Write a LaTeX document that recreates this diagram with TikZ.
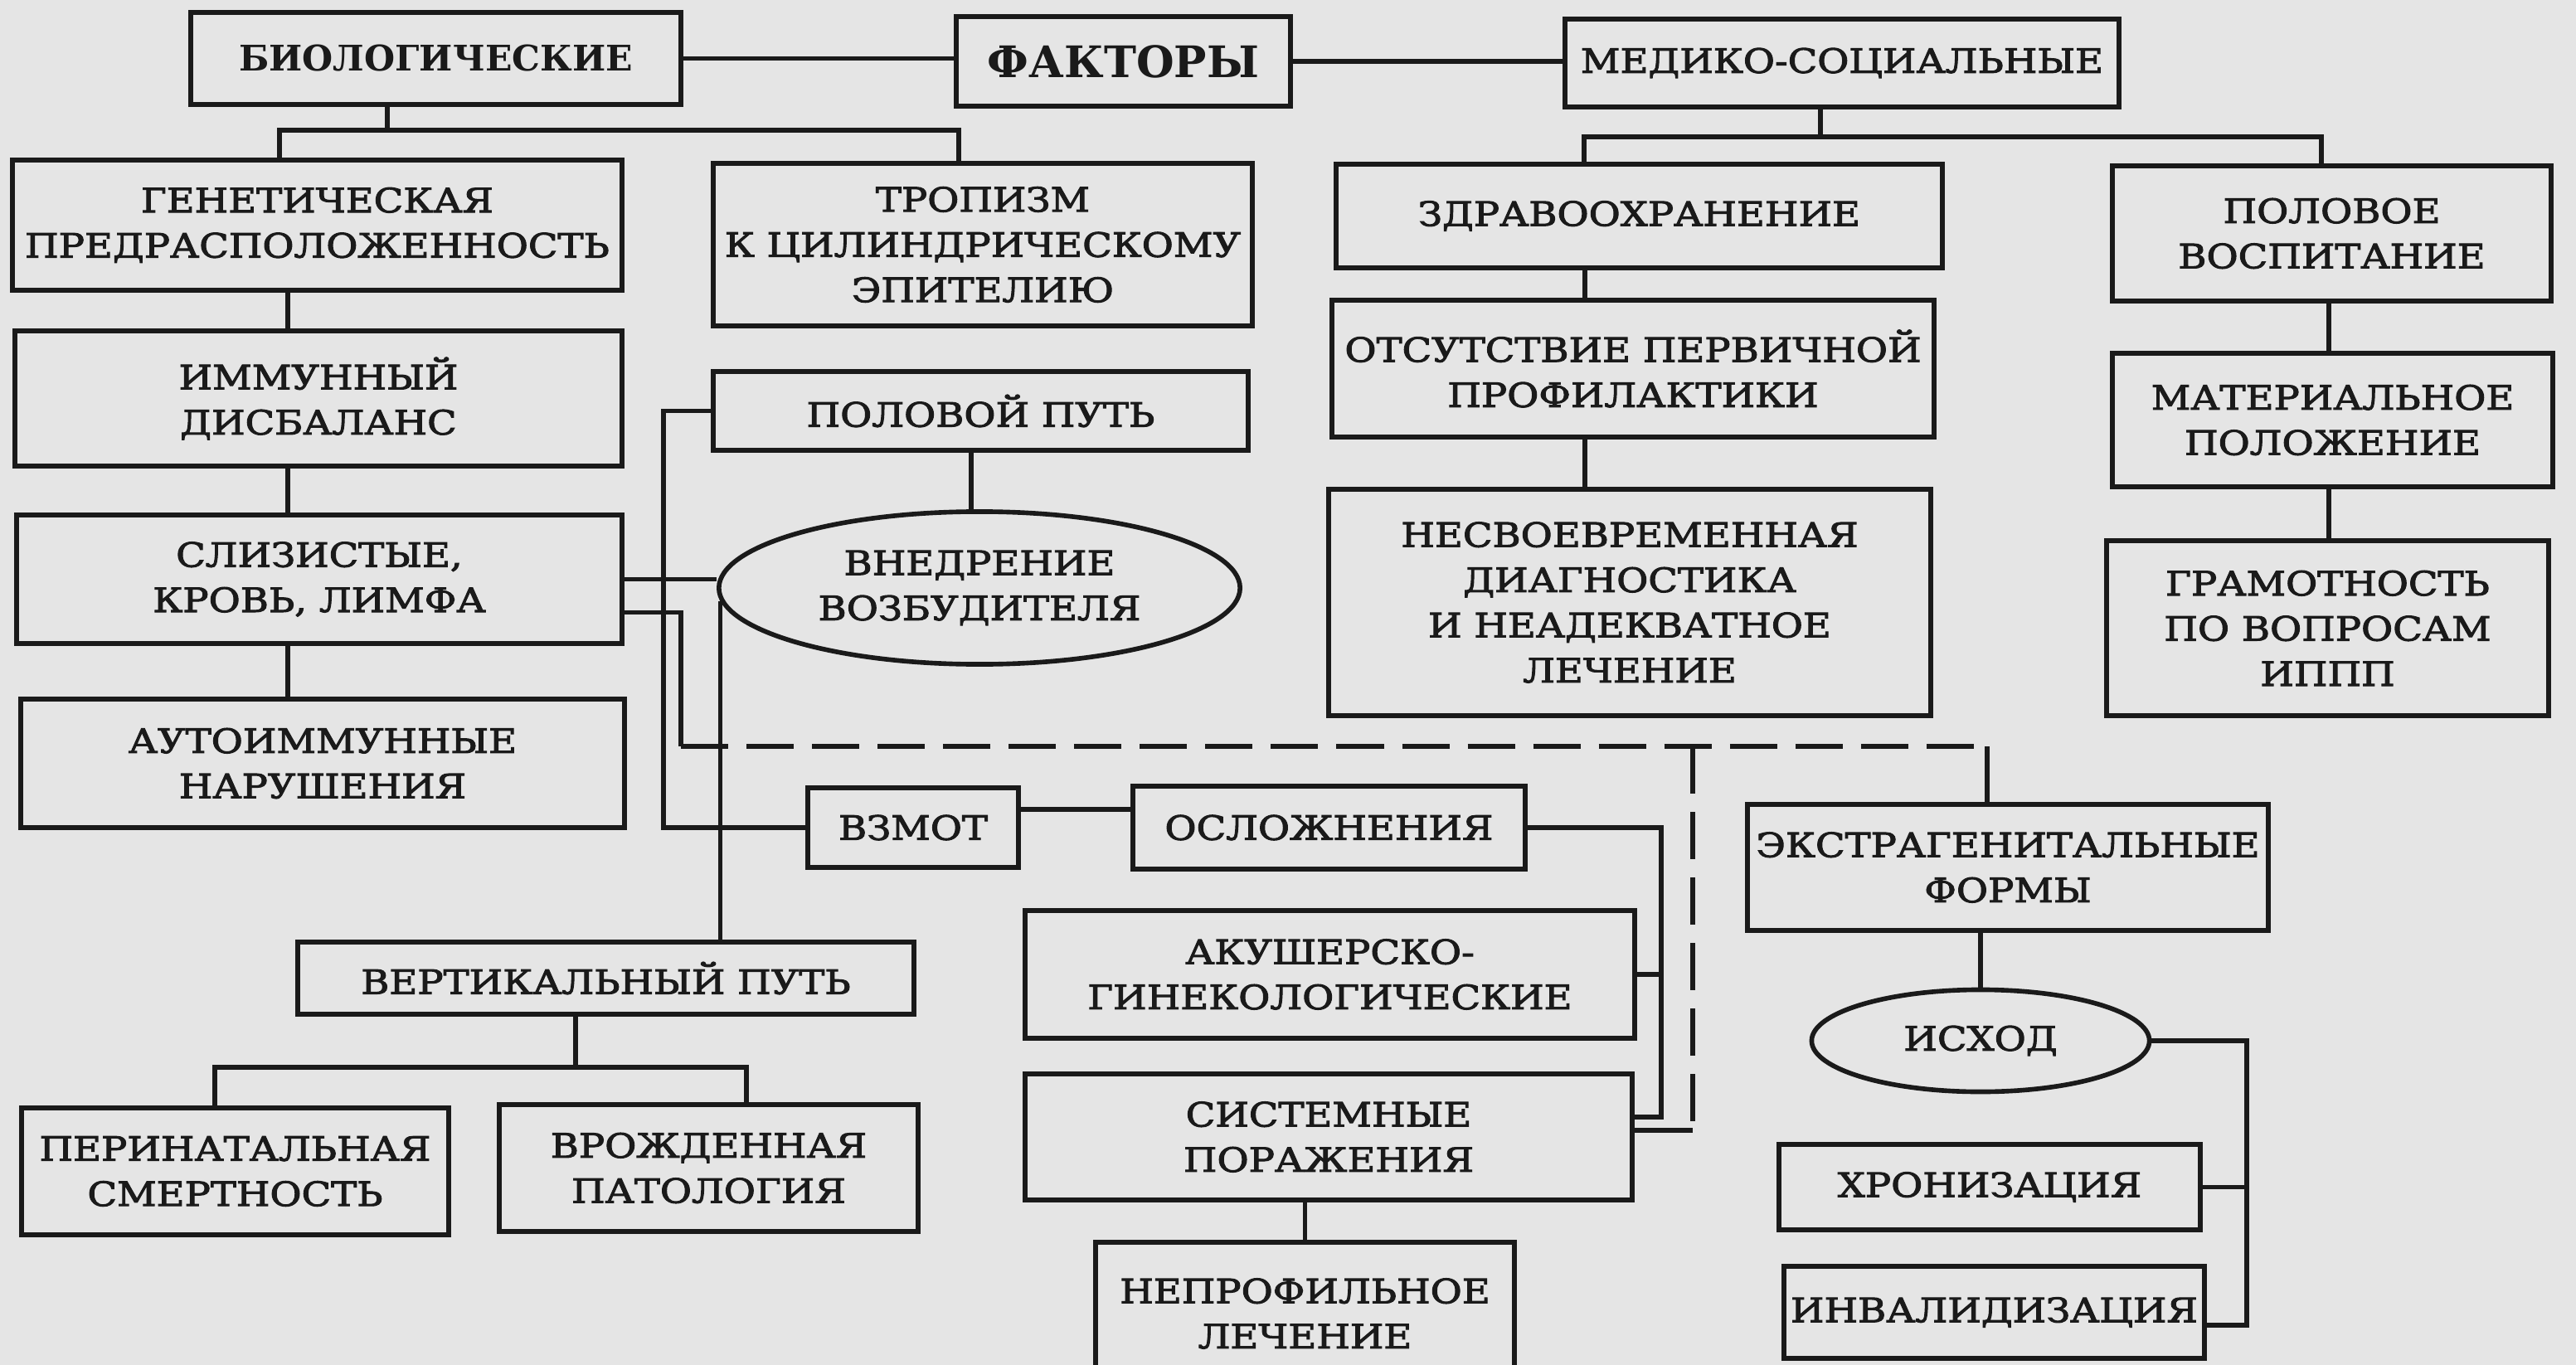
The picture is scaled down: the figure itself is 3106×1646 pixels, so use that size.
\documentclass[tikz,border=0pt]{standalone}
\usepackage{fontspec}
\setmainfont{DejaVu Serif}[FakeStretch=1.15,FakeBold=2.5]
\newfontfamily\headfont{DejaVu Serif}[BoldFont={DejaVu Serif Bold}]
\usetikzlibrary{shapes.geometric}
\definecolor{bg}{RGB}{229,229,229}
\definecolor{ink}{RGB}{26,26,26}
\newcommand\bx[7][]{%
  \pgfmathsetmacro\bxcx{(#3+#5)/2}%
  \pgfmathsetmacro\bxcy{(#4+#6)/2}%
  \pgfmathsetmacro\bxw{(#5-#3)/100}%
  \pgfmathsetmacro\bxh{(#6-#4)/100}%
  \node[box,#1,minimum width=\bxw cm,minimum height=\bxh cm] (#2) at (\bxcx,\bxcy) {#7};}
\newcommand\el[6]{%
  \node[oval,minimum width=#4cm,minimum height=#5cm] (#1) at (#2,#3) {#6};}
\begin{document}
\begin{tikzpicture}[x=0.01cm,y=-0.01cm,
  font=\fontsize{11.5}{15.5}\selectfont,
  box/.style={draw=ink,fill=bg,line width=1.8pt,align=center,inner sep=0pt,text=ink},
  oval/.style={ellipse,draw=ink,fill=bg,line width=1.6pt,align=center,inner sep=0pt,text=ink},
  conn/.style={draw=ink,line width=1.5pt},
  dconn/.style={draw=ink,line width=1.6pt,dash pattern=on 0.57cm off 0.22cm}]
\fill[bg] (0,0) rectangle (3106,1646);
\useasboundingbox (0,0) rectangle (3106,1646);
% nodes
\bx[font=\headfont\fontsize{12.1}{15.5}\selectfont\bfseries]{biol}{230}{15}{821}{126}{БИОЛОГИЧЕСКИЕ}
\bx[font=\headfont\fontsize{14.9}{18}\selectfont\bfseries]{fact}{1153}{20}{1556}{128}{ФАКТОРЫ}
\bx{med}{1887}{23}{2555}{129}{МЕДИКО-СОЦИАЛЬНЫЕ}
\bx{gen}{15}{193}{750}{350}{ГЕНЕТИЧЕСКАЯ\\ПРЕДРАСПОЛОЖЕННОСТЬ}
\bx{trop}{860}{197}{1510}{393}{ТРОПИЗМ\\К ЦИЛИНДРИЧЕСКОМУ\\ЭПИТЕЛИЮ}
\bx{zdr}{1611}{198}{2342}{323}{ЗДРАВООХРАНЕНИЕ}
\bx{polv}{2547}{200}{3076}{363}{ПОЛОВОЕ\\ВОСПИТАНИЕ}
\bx{imm}{18}{399}{750}{562}{ИММУННЫЙ\\ДИСБАЛАНС}
\bx{pol}{860}{448}{1505}{543}{ПОЛОВОЙ ПУТЬ}
\bx{ots}{1606}{362}{2332}{527}{ОТСУТСТВИЕ ПЕРВИЧНОЙ\\ПРОФИЛАКТИКИ}
\bx{mat}{2547}{426}{3078}{587}{МАТЕРИАЛЬНОЕ\\ПОЛОЖЕНИЕ}
\bx{sliz}{20}{621}{750}{776}{СЛИЗИСТЫЕ,\\КРОВЬ, ЛИМФА}
\el{vn}{1181}{709}{6.28}{1.84}{ВНЕДРЕНИЕ\\ВОЗБУДИТЕЛЯ}
\bx{nesv}{1602}{590}{2328}{863}{НЕСВОЕВРЕМЕННАЯ\\ДИАГНОСТИКА\\И НЕАДЕКВАТНОЕ\\ЛЕЧЕНИЕ}
\bx{gram}{2540}{652}{3073}{863}{ГРАМОТНОСТЬ\\ПО ВОПРОСАМ\\ИППП}
\bx{auto}{25}{843}{753}{998}{АУТОИММУННЫЕ\\НАРУШЕНИЯ}
\bx{vz}{974}{950}{1228}{1046}{ВЗМОТ}
\bx{osl}{1366}{948}{1839}{1048}{ОСЛОЖНЕНИЯ}
\bx{ekstr}{2107}{970}{2735}{1122}{ЭКСТРАГЕНИТАЛЬНЫЕ\\ФОРМЫ}
\bx{vert}{359}{1136}{1102}{1223}{ВЕРТИКАЛЬНЫЙ ПУТЬ}
\bx{akus}{1236}{1098}{1971}{1252}{АКУШЕРСКО-\\ГИНЕКОЛОГИЧЕСКИЕ}
\el{isx}{2388}{1255}{4.07}{1.23}{ИСХОД}
\bx{sist}{1236}{1295}{1968}{1447}{СИСТЕМНЫЕ\\ПОРАЖЕНИЯ}
\bx{peri}{26}{1336}{541}{1489}{ПЕРИНАТАЛЬНАЯ\\СМЕРТНОСТЬ}
\bx{vrozh}{602}{1332}{1107}{1485}{ВРОЖДЕННАЯ\\ПАТОЛОГИЯ}
\bx{hron}{2145}{1380}{2653}{1483}{ХРОНИЗАЦИЯ}
\bx{nepr}{1321}{1498}{1826}{1670}{НЕПРОФИЛЬНОЕ\\ЛЕЧЕНИЕ}
\bx{inv}{2151}{1527}{2658}{1638}{ИНВАЛИДИЗАЦИЯ}
% helper coordinates
\coordinate (bb) at (467,157);
\coordinate (bg1) at (337,157);
\coordinate (bt1) at (1156,157);
\coordinate (lc) at (347,0);
\coordinate (mb) at (2195,165);
\coordinate (mz) at (1910,165);
\coordinate (mp) at (2799,165);
\coordinate (zc) at (1911,0);
\coordinate (pc) at (2808,0);
\coordinate (px) at (800,0);
\coordinate (pv) at (1171,0);
\coordinate (sd) at (821,900);
\coordinate (sm) at (2041,900);
\coordinate (se) at (2396,900);
\coordinate (sx) at (2041,1363);
\coordinate (vb) at (694,1287);
\coordinate (vp) at (259,1287);
\coordinate (vv) at (900,1287);
\coordinate (ox) at (2003,0);
\coordinate (rx) at (2709,0);
% connectors
\draw[conn] (biol.east) -- (biol.east -| fact.west);
\draw[conn] (fact.east) -- (fact.east -| med.west);
\draw[conn] (biol.south -| bb) -- (bb);
\draw[conn] (gen.north -| bg1) -- (bg1) -- (bt1) -- (trop.north -| bt1);
\draw[conn] (gen.south -| lc) -- (imm.north -| lc);
\draw[conn] (imm.south -| lc) -- (sliz.north -| lc);
\draw[conn] (sliz.south -| lc) -- (auto.north -| lc);
\draw[conn] (med.south -| mb) -- (mb);
\draw[conn] (zdr.north -| mz) -- (mz) -- (mp) -- (polv.north -| mp);
\draw[conn] (zdr.south -| zc) -- (ots.north -| zc);
\draw[conn] (ots.south -| zc) -- (nesv.north -| zc);
\draw[conn] (polv.south -| pc) -- (mat.north -| pc);
\draw[conn] (mat.south -| pc) -- (gram.north -| pc);
\draw[conn] (pol.south -| pv) -- ([yshift=-0.01cm]vn.north -| pv);
\draw[conn] (pol.west) -- (pol.west -| px) -- (px |- vz.west) -- (vz.west);
\draw[conn] (sliz.east) -- (sliz.east -| vn.west);
\draw[conn] ([yshift=-0.4cm]sliz.east) -| (sd);
\draw[dconn] (sd) -- (se);
\draw[conn] (se) -- (ekstr.north -| se);
\draw[dconn] (sm) -- (sx);
\draw[conn] (sx) -- (sx -| sist.east);
\draw[conn] (vn.183.5) -- (vn.183.5 |- vert.north);
\draw[conn] (vert.south -| vb) -- (vb);
\draw[conn] (peri.north -| vp) -- (vp) -- (vv) -- (vrozh.north -| vv);
\draw[conn] ([yshift=0.22cm]vz.east) -- ([yshift=0.22cm]vz.east -| osl.west);
\draw[conn] (osl.east) -| ([yshift=0.24cm]sist.east -| ox) -- ([yshift=0.24cm]sist.east);
\draw[conn] (akus.east) -- (akus.east -| ox);
\draw[conn] (isx.north) -- (isx.north |- ekstr.south);
\draw[conn] (nepr.north) -- (nepr.north |- sist.south);
\draw[conn] (isx.east) -| ([yshift=-0.155cm]inv.east -| rx) -- ([yshift=-0.155cm]inv.east);
\draw[conn] (hron.east) -- (hron.east -| rx);
\end{tikzpicture}
\end{document}
